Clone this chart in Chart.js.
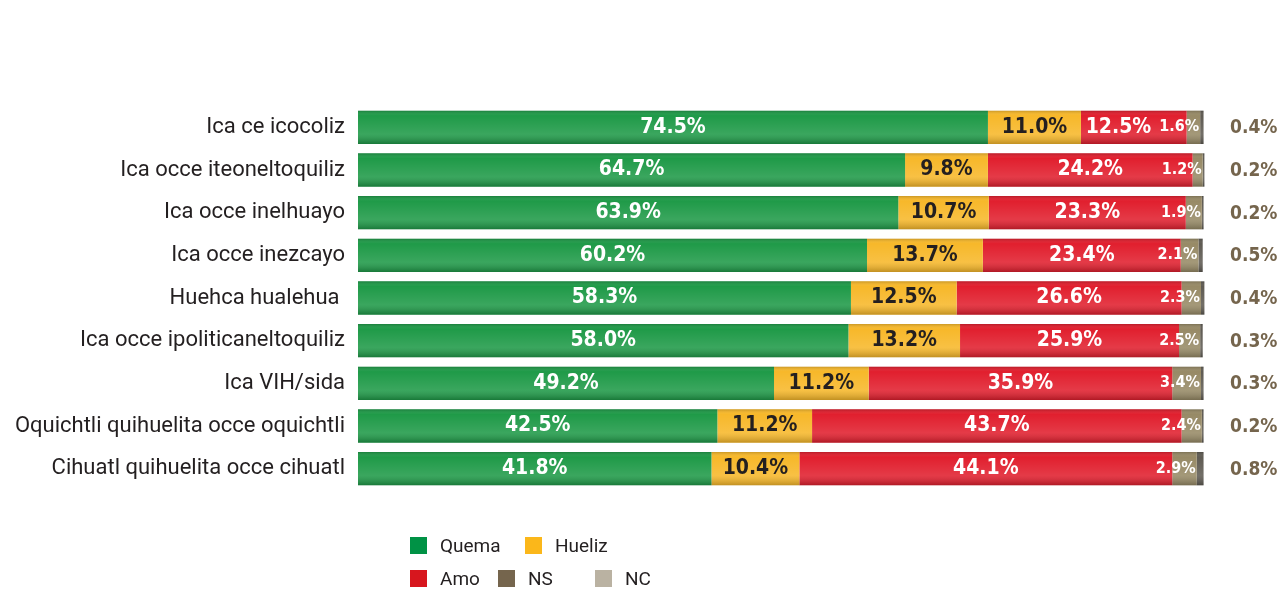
<!DOCTYPE html>
<html>
<head>
<meta charset="utf-8">
<script src="https://cdn.jsdelivr.net/npm/chart.js@4/dist/chart.umd.min.js"></script>
<style>
  html, body { margin: 0; padding: 0; background: #fff; }
  #wrap { position: relative; width: 1284px; height: 589px; }
  #legende { position: absolute; left: 0; top: 0; width: 1284px; height: 589px; pointer-events: none;
             font-family: Roboto, sans-serif; font-size: 19px; color: #231f20; }
  .item { position: absolute; display: flex; align-items: center; height: 18px; }
  .box { width: 17px; height: 17px; margin-right: 13px; }
</style>
</head>
<body>
<div id="wrap">
  <canvas id="myChart" width="1284" height="589"></canvas>
  <div id="legende"></div>
</div>
<script>
// 1. Daten
const kategorien = [
  'Ica ce icocoliz',
  'Ica occe iteoneltoquiliz',
  'Ica occe inelhuayo',
  'Ica occe inezcayo',
  'Huehca hualehua ',
  'Ica occe ipoliticaneltoquiliz',
  'Ica VIH/sida',
  'Oquichtli quihuelita occe oquichtli',
  'Cihuatl quihuelita occe cihuatl'
];
const quema  = [74.5, 64.7, 63.9, 60.2, 58.3, 58.0, 49.2, 42.5, 41.8];
const hueliz = [11.0, 9.8, 10.7, 13.7, 12.5, 13.2, 11.2, 11.2, 10.4];
const amo    = [12.5, 24.2, 23.3, 23.4, 26.6, 25.9, 35.9, 43.7, 44.1];
const ns     = [1.6, 1.2, 1.9, 2.1, 2.3, 2.5, 3.4, 2.4, 2.9];
const nc     = [0.4, 0.2, 0.2, 0.5, 0.4, 0.3, 0.3, 0.2, 0.8];

// Farben: Balken und Legende
const balkenFarben  = ['#1f9a48', '#f7b82a', '#e11f2e', '#978a66', '#5f5b53'];
const legendeFarben = ['#009245', '#fbb71a', '#d7161e', '#75654d', '#bab2a2'];
const textFarben    = ['#ffffff', '#231f20', '#ffffff', '#ffffff', '#75654d'];

// 2. Datensätze
const reihen = [
  { label: 'Quema',  data: quema },
  { label: 'Hueliz', data: hueliz },
  { label: 'Amo',    data: amo },
  { label: 'NS',     data: ns },
  { label: 'NC',     data: nc }
];

const data = {
  labels: kategorien,
  datasets: reihen.map((r, i) => ({
    label: r.label,
    data: r.data,
    backgroundColor: balkenFarben[i],
    borderWidth: 0,
    barPercentage: 0.78,
    categoryPercentage: 1
  }))
};

// Glanz/Schatten über die Balken legen und Werte schreiben
const wertePlugin = {
  id: 'werte',
  afterDatasetsDraw(chart) {
    const ctx = chart.ctx;
    const n = chart.data.datasets.length;
    ctx.save();

    // leichter 3D-Effekt pro Balken
    chart.getDatasetMeta(0).data.forEach((bar, j) => {
      const last = chart.getDatasetMeta(n - 1).data[j];
      const h = bar.height;
      const top = bar.y - h / 2;
      const g = ctx.createLinearGradient(0, top, 0, top + h);
      g.addColorStop(0, 'rgba(0,0,0,0.18)');
      g.addColorStop(0.15, 'rgba(255,255,255,0.0)');
      g.addColorStop(0.7, 'rgba(255,255,255,0.12)');
      g.addColorStop(1, 'rgba(0,0,0,0.22)');
      ctx.fillStyle = g;
      ctx.fillRect(bar.base, top, last.x - bar.base, h);
    });

    ctx.textBaseline = 'middle';
    const nsFont = 'bold 16px "DejaVu Sans Condensed"';
    const grossFont = 'bold 21px "DejaVu Sans Condensed"';
    chart.data.datasets.forEach((ds, i) => {
      const meta = chart.getDatasetMeta(i);
      meta.data.forEach((bar, j) => {
        const text = ds.data[j].toFixed(1) + '%';
        ctx.fillStyle = textFarben[i];
        if (i === 4) {
          ctx.font = 'bold 19px "DejaVu Sans Condensed"';
          ctx.textAlign = 'left';
          ctx.fillText(text, chart.chartArea.right + 18, bar.y + 1);
        } else if (i === 3) {
          ctx.font = nsFont;
          ctx.textAlign = 'right';
          ctx.fillText(text, bar.x - 1, bar.y);
        } else {
          ctx.font = grossFont;
          ctx.textAlign = 'center';
          let x = (bar.base + bar.x) / 2;
          if (i === 2) {
            // nicht mit dem NS-Wert überlappen
            const nsBar = chart.getDatasetMeta(3).data[j];
            ctx.font = nsFont;
            const nsLinks = nsBar.x - 1 - ctx.measureText(chart.data.datasets[3].data[j].toFixed(1) + '%').width;
            ctx.font = grossFont;
            const w = ctx.measureText(text).width;
            x = Math.min(x, nsLinks - 8 - w / 2);
          }
          ctx.fillText(text, x, bar.y);
        }
      });
    });
    ctx.restore();
  }
};

// 3. Konfiguration
const config = {
  type: 'bar',
  data: data,
  options: {
    indexAxis: 'y',
    responsive: false,
    animation: false,
    layout: { padding: { top: 106, bottom: 99, left: 0, right: 72 } },
    plugins: {
      legend: { display: false },
      tooltip: { enabled: false }
    },
    scales: {
      x: { stacked: true, min: 0, max: 101, display: false },
      y: {
        stacked: true,
        grid: { display: false, drawTicks: false },
        border: { display: false },
        ticks: {
          padding: 13,
          color: '#231f20',
          font: { family: 'Roboto', size: 22 }
        },
        afterFit(scale) { scale.width = 358; }
      }
    }
  },
  plugins: [wertePlugin]
};

// 4. Diagramm erzeugen
const chart = new Chart(document.getElementById('myChart'), config);

// 5. Legende (zwei Zeilen wie im Original)
const legendePlaetze = [
  { left: 410, top: 536 }, { left: 525, top: 536 },
  { left: 410, top: 569 }, { left: 498, top: 569 }, { left: 595, top: 569 }
];
const legende = document.getElementById('legende');
chart.data.datasets.forEach((ds, i) => {
  const item = document.createElement('div');
  item.className = 'item';
  item.style.left = legendePlaetze[i].left + 'px';
  item.style.top = legendePlaetze[i].top + 'px';
  item.innerHTML = '<span class="box" style="background:' + legendeFarben[i] + '"></span>' + ds.label;
  legende.appendChild(item);
});
</script>
</body>
</html>
